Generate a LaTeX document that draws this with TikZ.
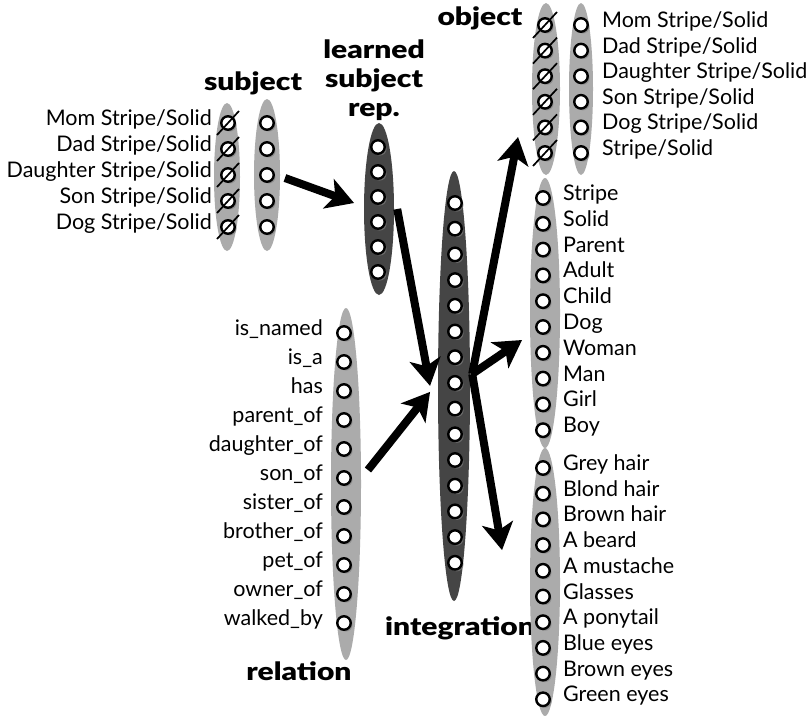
\documentclass[tikz,border=0pt]{standalone}
\usepackage{fontspec}
\setmainfont{Lato}
\newfontfamily\titlefont{Lato Black}[FakeStretch=1.2]
\usetikzlibrary{arrows.meta,shapes.geometric,shadows,calc}

\begin{document}
\begin{tikzpicture}[x=1pt,y=-1pt]
  \tikzset{
    layer/.style={
      ellipse,
      fill=black!33,
      inner sep=0pt
    },
    darklayer/.style={layer, fill=black!73},
    unit/.style={
      circle,
      draw,
      line width=2.4pt,
      fill=white,
      inner sep=0pt,
      minimum size=13.5pt,
      drop shadow={shadow xshift=1.8pt, shadow yshift=-1.8pt, opacity=.65}
    },
    slash/.style={line width=1.7pt},
    lbl/.style={font=\fontsize{21.5}{22}\selectfont, inner sep=0pt},
    title/.style={font=\titlefont\fontsize{25}{29}\selectfont, align=center, inner sep=0pt},
    line/.style={
      line width=8pt,
      -{Stealth[length=27pt,width=31pt,inset=7pt]}
    }
  }
  \useasboundingbox (0,0) rectangle (811,715);

  % subject
  \node[layer, minimum width=26pt, minimum height=148pt] (subjhl) at (227,177) {};
  \node[layer, minimum width=26pt, minimum height=152pt] (subjl) at (267,175) {};
  \foreach \txt [count=\i] in {Mom Stripe/Solid, Dad Stripe/Solid, Daughter Stripe/Solid, Son Stripe/Solid, Dog Stripe/Solid} {
    \node[unit] (subjh-\i) at (228,{123+26*(\i-1)}) {};
    \draw[slash] ([shift={(-11,12)}]subjh-\i.center) -- ([shift={(11,-12)}]subjh-\i.center);
    \node[unit] (subj-\i) at (267,{123+26*(\i-1)}) {};
    \node[lbl, anchor=mid east] (subjt-\i) at ($(subjh-\i.west)+(-8,0)$) {\txt};
  }
  \node[title, anchor=base] (subjtitle) at (253,90) {subject};

  % learned subject representation
  \node[darklayer, minimum width=30pt, minimum height=172pt] (learned) at (379,209) {};
  \foreach \i in {1,...,6}
    \node[unit] (learned-\i) at (378,{147+25*(\i-1)}) {};
  \node[title] (learnedtitle) at (374,80) {learned\\subject\\rep.};

  % integration
  \node[darklayer, minimum width=32pt, minimum height=430pt] (integ) at (454,386) {};
  \foreach \i in {1,...,15}
    \node[unit] (integ-\i) at (455,{203+25.7*(\i-1)}) {};
  \node[title, anchor=base] (integtitle) at (460,635) {integration};

  % relation
  \node[layer, minimum width=30pt, minimum height=352pt] (rel) at (346,484) {};
  \foreach \txt [count=\i] in {is\_named, is\_a, has, parent\_of, daughter\_of, son\_of, sister\_of, brother\_of, pet\_of, owner\_of, walked\_by} {
    \node[unit] (rel-\i) at (344,{333+29*(\i-1)}) {};
    \node[lbl, anchor=mid east] (relt-\i) at ($(rel-\i.west)+(-13,0)$) {\txt};
  }
  \node[title, anchor=base] (reltitle) at (299,680) {relation};

  % object
  \node[layer, minimum width=28pt, minimum height=172pt] (objhl) at (546,89) {};
  \node[layer, minimum width=24pt, minimum height=172pt] (objl) at (581,89) {};
  \foreach \txt [count=\i] in {Mom Stripe/Solid, Dad Stripe/Solid, Daughter Stripe/Solid, Son Stripe/Solid, Dog Stripe/Solid, Stripe/Solid} {
    \node[unit] (objh-\i) at (545,{25+25.6*(\i-1)}) {};
    \draw[slash] ([shift={(-12,13)}]objh-\i.center) -- ([shift={(12,-13)}]objh-\i.center);
    \node[unit] (obj-\i) at (581,{25+25.6*(\i-1)}) {};
    \node[lbl, anchor=mid west] (objt-\i) at ($(obj-\i.east)+(13,0)$) {\txt};
  }
  \node[title, anchor=base] (objtitle) at (480,25) {object};

  % object features
  \node[layer, minimum width=30pt, minimum height=270pt] (feat) at (545,313) {};
  \foreach \txt [count=\i] in {Stripe, Solid, Parent, Adult, Child, Dog, Woman, Man, Girl, Boy} {
    \node[unit] (feat-\i) at (543,{198+25.8*(\i-1)}) {};
    \node[lbl, anchor=mid west] (featt-\i) at ($(feat-\i.east)+(12,0)$) {\txt};
  }

  % object attributes
  \node[layer, minimum width=30pt, minimum height=268pt] (attr) at (545,582) {};
  \foreach \txt [count=\i] in {Grey hair, Blond hair, Brown hair, A beard, A mustache, Glasses, A ponytail, Blue eyes, Brown eyes, Green eyes} {
    \node[unit] (attr-\i) at (543,{468+25.7*(\i-1)}) {};
    \node[lbl, anchor=mid west] (attrt-\i) at ($(attr-\i.east)+(12,0)$) {\txt};
  }

  % connections
  \coordinate (fanout) at ($(integ.east)+(2,-12)$);
  \draw[line] ($(subj-3.east)+(10,3)$) -- ($(learned-3.west)+(-16,6)$);
  \draw[line] ($(learned.east)+(3,0)$) -- ($(integ-8.west)+(-17,3)$);
  \draw[line] ($(rel-6.east)+(16,-8)$) -- ($(integ-8.west)+(-17,9)$);
  \draw[line] (fanout) -- ($(objh-6.west)+(-19,-16)$);
  \draw[line] (fanout) -- ($(feat-6.west)+(-13,13)$);
  \draw[line] (fanout) -- ($(attr-4.west)+(-33,5)$);

\end{tikzpicture}
\end{document}
